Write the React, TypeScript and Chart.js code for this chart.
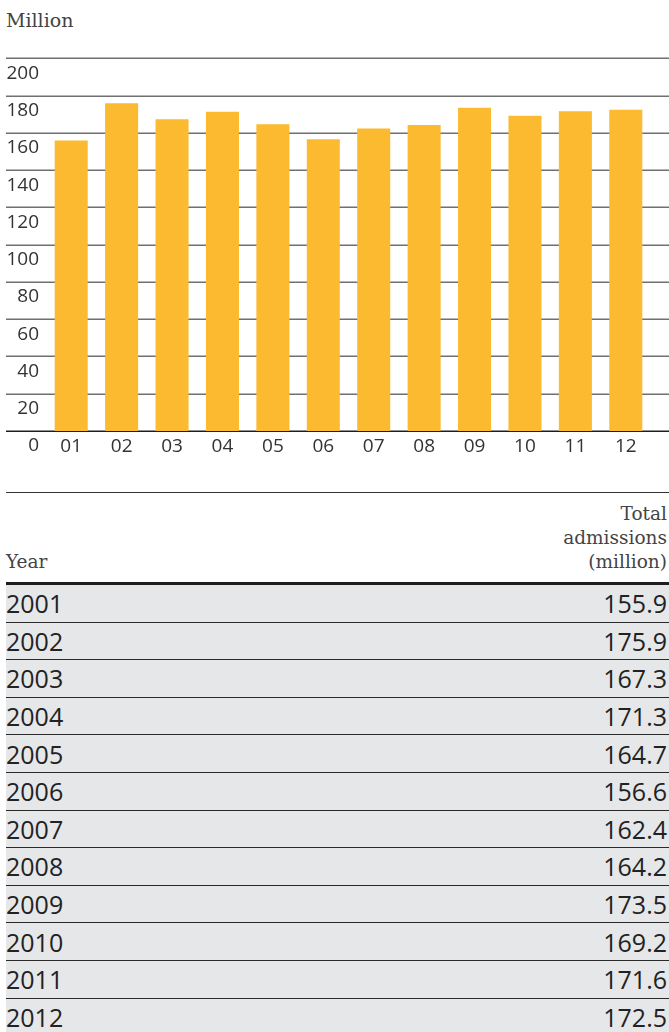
import React, { useEffect, useLayoutEffect, useRef } from "react";
import { Chart, registerables } from "chart.js";

Chart.register(...registerables);

const categories = ["01", "02", "03", "04", "05", "06", "07", "08", "09", "10", "11", "12"];
const years = ["2001", "2002", "2003", "2004", "2005", "2006", "2007", "2008", "2009", "2010", "2011", "2012"];
const admissions = [155.9, 175.9, 167.3, 171.3, 164.7, 156.6, 162.4, 164.2, 173.5, 169.2, 171.6, 172.5];
const yTicks = [0, 20, 40, 60, 80, 100, 120, 140, 160, 180, 200];

const BAR = "#fbba2f";
const SANS = "'Open Sans', 'Noto Sans', sans-serif";
const SERIF = "'DejaVu Serif', serif";

const gridPlugin = {
  id: "fullGrid",
  beforeDatasetsDraw(chart: any) {
    const ctx = chart.ctx;
    const y = chart.scales.y;
    ctx.save();
    for (const v of yTicks) {
      const py = Math.round(y.getPixelForValue(v)) + 0.25;
      ctx.beginPath();
      ctx.strokeStyle = v === 0 ? "#1e1e1e" : "#707070";
      ctx.lineWidth = 1.5;
      ctx.moveTo(6, py);
      ctx.lineTo(chart.width, py);
      ctx.stroke();
    }
    ctx.restore();
  },
};

export default function App() {
  const ref = useRef<HTMLCanvasElement | null>(null);

  useLayoutEffect(() => {
    document.body.style.margin = "0";
  }, []);

  useEffect(() => {
    if (!ref.current) return;
    const chart = new Chart(ref.current, {
      type: "bar",
      data: {
        labels: categories,
        datasets: [
          {
            data: admissions,
            backgroundColor: BAR,
            borderWidth: 0,
            barPercentage: 0.655,
            categoryPercentage: 1,
          },
        ],
      },
      options: {
        animation: false,
        responsive: false,
        maintainAspectRatio: false,
        devicePixelRatio: 1,
        layout: { padding: { top: 18, right: 18, left: 0, bottom: 0 } },
        plugins: { legend: { display: false }, tooltip: { enabled: false } },
        scales: {
          x: {
            grid: { display: false, drawTicks: false },
            border: { display: false },
            ticks: {
              color: "#333",
              font: { family: SANS, size: 19 },
              padding: 4,
              maxRotation: 0,
              autoSkip: false,
            },
            afterFit: (s: any) => {
              s.height = 39;
            },
          },
          y: {
            min: 0,
            max: 200,
            afterBuildTicks: (s: any) => {
              s.ticks = yTicks.map((v) => ({ value: v }));
            },
            grid: { display: false, drawTicks: false },
            border: { display: false },
            ticks: {
              color: "#333",
              font: { family: SANS, size: 19 },
              padding: 7,
              labelOffset: 15,
            },
            afterFit: (s: any) => {
              s.width = 46;
            },
          },
        },
      },
      plugins: [gridPlugin],
    });
    return () => chart.destroy();
  }, []);

  return (
    <div style={{ position: "relative", width: 669, height: 1032, overflow: "hidden", background: "#fff" }}>
      <div
        style={{
          position: "absolute",
          left: 6,
          top: 8,
          fontFamily: SERIF,
          fontSize: 19,
          lineHeight: "24px",
          color: "#444",
        }}
      >
        Million
      </div>
      <canvas ref={ref} width={669} height={430} style={{ position: "absolute", left: 0, top: 40, width: 669, height: 430 }} />
      <div style={{ position: "absolute", left: 6, top: 492, width: 663 }}>
        <div
          style={{
            borderTop: "1.5px solid #333",
            height: 89,
            position: "relative",
            fontFamily: SERIF,
            fontSize: 18.5,
            lineHeight: "24px",
            color: "#444",
          }}
        >
          <div style={{ position: "absolute", left: 0, bottom: 8 }}>Year</div>
          <div style={{ position: "absolute", right: 2, bottom: 8, textAlign: "right" }}>
            Total
            <br />
            admissions
            <br />
            (million)
          </div>
        </div>
        <div style={{ borderTop: "3px solid #1e1e1e" }} />
        {years.map((yr, i) => (
          <div
            key={yr}
            style={{
              height: 36.6,
              borderBottom: "1px solid #2a2a2a",
              background: "#e6e7e9",
              display: "flex",
              justifyContent: "space-between",
              alignItems: "center",
              fontFamily: SANS,
              fontSize: 25,
              color: "#222",
            }}
          >
            <span>{yr}</span>
            <span style={{ paddingRight: 2 }}>{admissions[i].toFixed(1)}</span>
          </div>
        ))}
      </div>
    </div>
  );
}
